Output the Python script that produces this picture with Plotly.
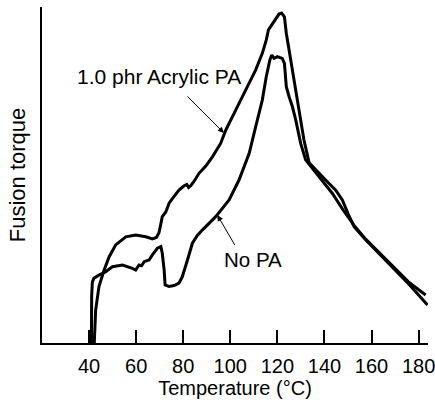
import plotly.graph_objects as go

# temperature (°C) / fusion torque (arbitrary units, 0-100)
acrylic_t = [42.2, 42.4, 42.8, 44.2, 46.4, 48.5, 51.3, 55.6, 59.8, 64.1, 66.9, 68.6, 69.7,
             70.5, 71.1, 72.6, 74.0, 75.4, 78.2, 80.4, 81.5, 82.3, 83.2, 84.5, 86.7, 89.5,
             92.4, 95.9, 98.1, 102.3, 106.5, 110.8, 113.6, 115.3, 116.2, 117.9, 120.7,
             121.8, 123.0, 123.8, 125.0, 127.1, 129.2, 131.3, 133.5, 136.3, 140.5, 144.8,
             147.6, 150.0, 152.6, 157.5, 164.6, 170.2, 176.0, 183.8]
acrylic_y = [0, 5.0, 9.8, 16.8, 21.7, 25.6, 29.2, 31.6, 32.1, 31.6, 31.0, 31.4, 32.8,
             35.5, 37.6, 39.0, 41.6, 43.0, 45.5, 46.8, 47.2, 46.3, 46.8, 48.0, 50.5, 52.6,
             55.4, 59.4, 63.4, 69.3, 75.3, 81.3, 86.2, 90.2, 93.2, 95.1, 97.9,
             98.2, 97.1, 92.2, 87.2, 77.4, 69.3, 60.4, 53.6, 51.5, 48.5, 45.5,
             42.6, 38.5, 34.6, 30.7, 25.7, 21.7, 17.4, 11.3]

nopa_t = [41.0, 41.0, 41.1, 41.4, 42.1, 44.2, 47.1, 49.9, 54.2, 58.4, 59.8, 61.2, 62.3,
          63.4, 65.5, 66.9, 69.0, 70.5, 71.1, 71.9, 72.3, 74.0, 76.1, 78.2, 79.6, 81.8,
          83.9, 86.0, 88.1, 93.8, 99.5, 103.7, 108.0, 110.8, 113.6, 115.3, 116.8, 117.6,
          118.6, 120.0, 122.1, 123.0, 123.8, 125.0, 126.4, 127.8, 129.9, 132.0, 134.9,
          139.1, 143.4, 148.0, 152.6, 157.5, 164.6, 170.2, 176.0, 183.0]
nopa_y = [0, 8.0, 14.0, 18.2, 19.3, 20.2, 21.2, 22.7, 23.2, 22.2, 21.7, 23.2, 23.0,
          24.2, 24.7, 26.2, 28.2, 28.7, 26.7, 21.7, 17.3, 16.8, 17.1, 17.8, 19.7, 24.7,
          29.7, 32.0, 33.6, 37.6, 42.6, 48.5, 56.4, 64.4, 72.3, 79.3, 84.2, 85.7,
          84.7, 85.2, 84.7, 83.2, 76.3, 73.3, 70.3, 66.4, 59.4, 54.5, 52.0,
          48.5, 44.5, 39.5, 35.0, 30.9, 25.9, 21.9, 18.0, 14.3]

x_ticks = [40, 60, 80, 100, 120, 140, 160, 180]

FONT = "Liberation Sans, Arial, Helvetica, sans-serif"

fig = go.Figure()

fig.add_trace(go.Scatter(x=acrylic_t, y=acrylic_y, mode="lines",
                         line=dict(color="black", width=3), name="1.0 phr Acrylic PA"))
fig.add_trace(go.Scatter(x=nopa_t, y=nopa_y, mode="lines",
                         line=dict(color="black", width=3), name="No PA"))

# labels with thin arrows
fig.add_annotation(x=69.7, y=79.3, text="1.0 phr Acrylic PA", showarrow=False,
                   font=dict(size=21, color="black"))
fig.add_annotation(x=97.3, y=62.5, ax=81.2, ay=73.8, axref="x", ayref="y",
                   showarrow=True, arrowhead=2, arrowsize=1.2, arrowwidth=1,
                   arrowcolor="black", text="")
fig.add_annotation(x=109.7, y=24.9, text="No PA", showarrow=False,
                   font=dict(size=20.5, color="black"))
fig.add_annotation(x=94.5, y=38.1, ax=102.3, ay=28.7, axref="x", ayref="y",
                   showarrow=True, arrowhead=2, arrowsize=1.2, arrowwidth=1,
                   arrowcolor="black", text="")

fig.update_layout(
    width=435, height=402,
    margin=dict(l=42, r=7, t=7, b=59),
    paper_bgcolor="white", plot_bgcolor="white",
    showlegend=False,
    font=dict(family=FONT, size=20, color="black"),
    xaxis=dict(
        range=[20, 184], tickvals=x_ticks, ticktext=[str(v) for v in x_ticks],
        ticks="inside", ticklen=13, tickwidth=1.5, tickcolor="black",
        showline=True, linecolor="black", linewidth=2,
        showgrid=False, zeroline=False, ticklabelstandoff=4,
        ticklabeloverflow="allow", automargin=False,
        title=dict(text="Temperature (°C)", font=dict(size=20), standoff=0),
    ),
    yaxis=dict(
        range=[0, 100], showticklabels=False, ticks="",
        showline=True, linecolor="black", linewidth=1.5,
        showgrid=False, zeroline=False, automargin=False,
        title=dict(text="Fusion torque", font=dict(size=22), standoff=9),
    ),
)

# drop the page's default body margin so the chart sits at the window corner
fig.write_html("out.html", config={"displayModeBar": False},
               post_script="document.body.style.margin='0';")
